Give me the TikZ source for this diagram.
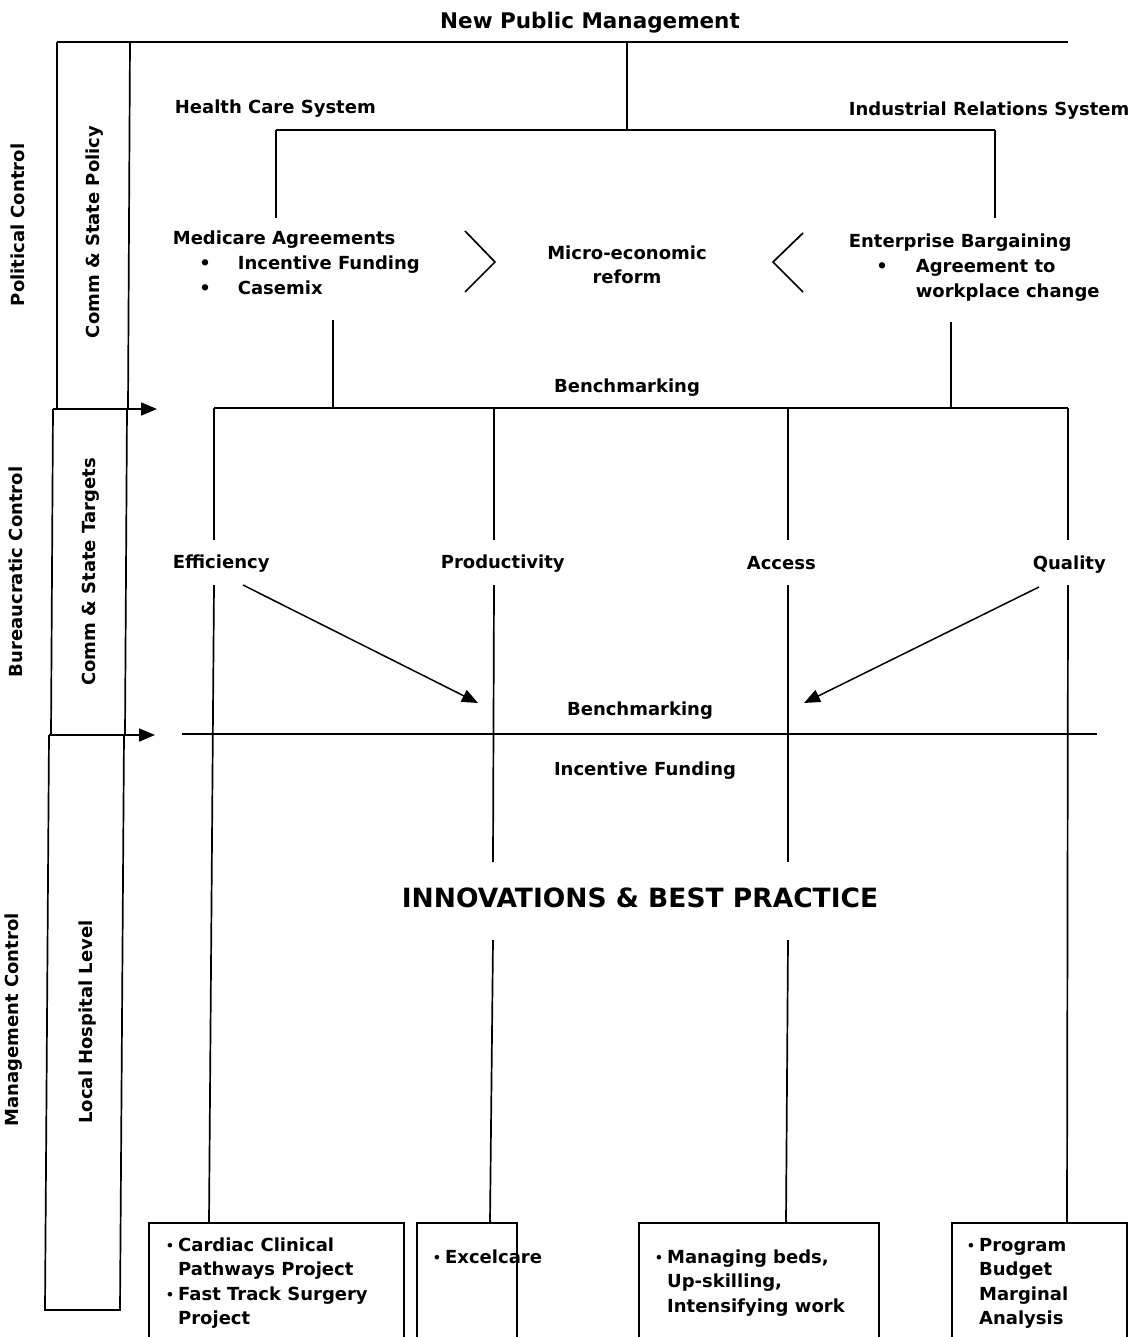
\documentclass[tikz,border=0pt]{standalone}
\usepackage{fontspec}
\setmainfont{DejaVu Sans}
\usetikzlibrary{arrows.meta}
\newcommand{\smallbullet}{{\fontsize{13}{13}\selectfont\raisebox{1pt}{•}}}
\begin{document}
\begin{tikzpicture}[x=1pt,y=-1pt,line width=1.7pt,
  every node/.style={inner sep=0pt,font=\bfseries\fontsize{18}{24.5}\selectfont},
  txt/.style={anchor=mid west,yshift=-5pt},
  ctxt/.style={anchor=mid,yshift=-5pt},
  side/.style={rotate=90,anchor=mid},
  arr/.style={-{Triangle[length=16pt,width=13pt]}},
  itembox/.style={draw,line width=1.7pt,anchor=north west,minimum height=130pt},
  blist/.style={anchor=base west,align=left},
]
\useasboundingbox (0,0) rectangle (1140,1337);

% ---------- side bands ----------
\draw (57,409) -- (57,42);
\draw (130,42) -- (128,409);
\draw (53,409) -- (51,735);
\draw (127,409) -- (125,735);
\draw (49,735) -- (45,1310) -- (120,1310) -- (124,735);
\coordinate (pa) at (53,409);  \coordinate (pb) at (157,409);
\coordinate (ba) at (49,735);  \coordinate (bb) at (155,735);
\draw[arr] (pa) -- (pb);
\draw[arr] (ba) -- (bb);

\node[side] (pc)  at (22,225)  {Political Control};
\node[side] (csp) at (97,232)  {Comm \& State Policy};
\node[side] (bc)  at (20,572)  {Bureaucratic Control};
\node[side] (cst) at (93,572)  {Comm \& State Targets};
\node[side] (mc)  at (16,1020) {Management Control};
\node[side] (lhl) at (90,1022) {Local Hospital Level};

% ---------- top of the tree ----------
\node[ctxt,yshift=-1pt,font=\bfseries\fontsize{21.5}{26}\selectfont] (npm) at (590,20) {New Public Management};
\coordinate (tl) at (57,42);   \coordinate (tr) at (1068,42);
\coordinate (tm) at (627,42);  \coordinate (tj) at (627,130);
\coordinate (hl) at (276,130); \coordinate (hr) at (995,130);
\draw (tl) -- (tr);
\draw (tm) -- (tj);
\draw (hl) -- (hr);

\node[txt] (hcs) at (174,106) {Health Care System};
\node[txt] (irs) at (848,108) {Industrial Relations System};

% Medicare block
\node[txt] (med) at (172,237) {Medicare Agreements};
\node[ctxt] (mb1) at (205,262) {•};
\node[ctxt] (mb2) at (205,287) {•};
\node[txt] (mi1) at (237,262) {Incentive Funding};
\node[txt] (mi2) at (237,287) {Casemix};

% Enterprise block
\node[txt] (ent) at (848,240) {Enterprise Bargaining};
\node[ctxt] (eb1) at (882,265) {•};
\node[txt] (ei1) at (915,265) {Agreement to};
\node[txt] (ei2) at (915,290) {workplace change};

% Micro-economic reform with chevrons
\node[ctxt,align=center] (mer) at (627,276) {Micro-economic\\reform};
\coordinate (c1a) at (465,231); \coordinate (c1b) at (495,262); \coordinate (c1c) at (465,292);
\coordinate (c2a) at (803,233); \coordinate (c2b) at (773,262); \coordinate (c2c) at (803,292);
\draw (c1a) -- (c1b) -- (c1c);
\draw (c2a) -- (c2b) -- (c2c);

\draw (hl) -- (276,218);
\draw (hr) -- (995,218);

% ---------- benchmarking bar ----------
\node[ctxt] (bm1) at (627,385) {Benchmarking};
\coordinate (bl) at (214,408); \coordinate (br) at (1068,408);
\draw (333,320) -- (333,408);
\draw (951,322) -- (951,408);
\draw (bl) -- (br);

\node[txt] (eff) at (172,561) {Efficiency};
\node[txt] (pro) at (440,561) {Productivity};
\node[txt] (acc) at (746,562) {Access};
\node[txt] (qua) at (1032,562) {Quality};

\draw (214,408) -- (214,540);
\draw (494,408) -- (494,540);
\draw (788,408) -- (788,540);
\draw (1068,408) -- (1068,540);

% lower stretch of the four columns
\draw (214,585) -- (209,1222);
\draw (494,585) -- (493,862);
\draw (493,940) -- (490,1222);
\draw (788,585) -- (788,862);
\draw (788,940) -- (786,1222);
\draw (1068,585) -- (1067,1222);

% converging arrows
\coordinate (ea) at (243,585);  \coordinate (eb) at (478,703);
\coordinate (qa) at (1039,587); \coordinate (qb) at (804,703);
\draw[arr,line width=1.5pt] (ea) -- (eb);
\draw[arr,line width=1.5pt] (qa) -- (qb);

\node[ctxt] (bm2) at (640,708) {Benchmarking};
\coordinate (fl) at (182,734); \coordinate (fr) at (1097,734);
\draw (fl) -- (fr);
\node[ctxt] (inf) at (645,768) {Incentive Funding};

\node[ctxt,yshift=-3pt,font=\bfseries\fontsize{26.5}{30}\selectfont] (ibp) at (640,897) {INNOVATIONS \& BEST PRACTICE};

% ---------- outcome boxes ----------
\node[itembox,minimum width=255pt] (box1) at (148,1222) {};
\node[itembox,minimum width=100pt] (box2) at (416,1222) {};
\node[itembox,minimum width=240pt] (box3) at (638,1222) {};
\node[itembox,minimum width=175pt] (box4) at (951,1222) {};

\node[blist] (l1) at (165,1251) {\begin{tabular}[t]{@{}l@{\hspace{4pt}}l@{}}\smallbullet&Cardiac Clinical\\&Pathways Project\\\smallbullet&Fast Track Surgery\\&Project\end{tabular}};
\node[blist] (l2) at (432,1263) {\begin{tabular}[t]{@{}l@{\hspace{4pt}}l@{}}\smallbullet&Excelcare\end{tabular}};
\node[blist] (l3) at (654,1263) {\begin{tabular}[t]{@{}l@{\hspace{4pt}}l@{}}\smallbullet&Managing beds,\\&Up-skilling,\\&Intensifying work\end{tabular}};
\node[blist] (l4) at (966,1251) {\begin{tabular}[t]{@{}l@{\hspace{4pt}}l@{}}\smallbullet&Program\\&Budget\\&Marginal\\&Analysis\end{tabular}};
\end{tikzpicture}
\end{document}
